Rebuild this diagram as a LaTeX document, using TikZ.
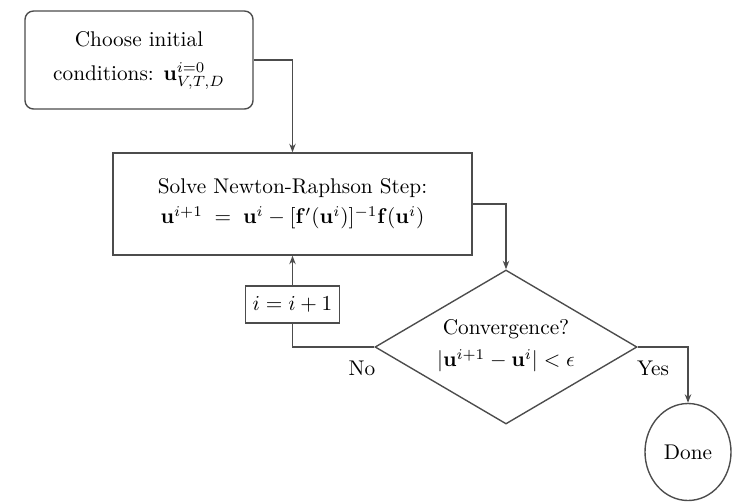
\documentclass[tikz,border=0pt]{standalone}
\usetikzlibrary{shapes.geometric,arrows.meta}
\def\px{0.47pt}
\begin{document}
\begin{tikzpicture}[x=0.47pt,y=-0.47pt,
  line/.style={draw=black!70,line width=0.65pt},
  arr/.style={line,-{Stealth[length=4pt,width=3pt]}},
  boxr/.style={line,rectangle,rounded corners=4pt,align=center,inner sep=0pt},
  boxs/.style={line,rectangle,align=center,inner sep=0pt},
  dia/.style={line,diamond,shape aspect=1.7,align=center,inner sep=0pt},
  oval/.style={line,ellipse,align=center,inner sep=0pt},
  lab/.style={inner sep=0pt}]
\useasboundingbox (0,0) rectangle (740,502);
\node[boxr,minimum width={228*\px},minimum height={98*\px}] (b1) at (139,60)
  {Choose initial\\[4pt] conditions: $\mathbf{u}^{i=0}_{V,T,D}$};
\node[boxs,minimum width={359*\px},minimum height={102*\px}] (b2) at (292.5,204)
  {Solve Newton-Raphson Step:\\[2pt] $\mathbf{u}^{i+1} \;=\; \mathbf{u}^{i} - [\mathbf{f}'(\mathbf{u}^{i})]^{-1}\mathbf{f}(\mathbf{u}^{i})$};
\node[boxs,minimum width={94*\px},minimum height={37*\px}] (inc) at (292.5,304.5) {$i=i+1$};
\node[dia,minimum width={262*\px},minimum height={154*\px}] (cv) at (506,347) {};
\node[lab,align=center] (cvt) at (506,346)
  {Convergence?\\[3pt] $|\mathbf{u}^{i+1}-\mathbf{u}^{i}|<\epsilon$};
\node[oval,minimum width={86*\px},minimum height={97*\px}] (done) at (688,452) {Done};
\draw[arr] (b1.east) -| (b2.north);
\draw[arr] (b2.east) -| (cv.north);
\draw[line] (cv.west) -| (inc.south);
\draw[arr] (inc.north) -- (b2.south -| inc.north);
\draw[arr] (cv.east) -| (done.north);
\node[lab] (no) at (362,368) {No};
\node[lab] (yes) at (653,368) {Yes};
\end{tikzpicture}
\end{document}
